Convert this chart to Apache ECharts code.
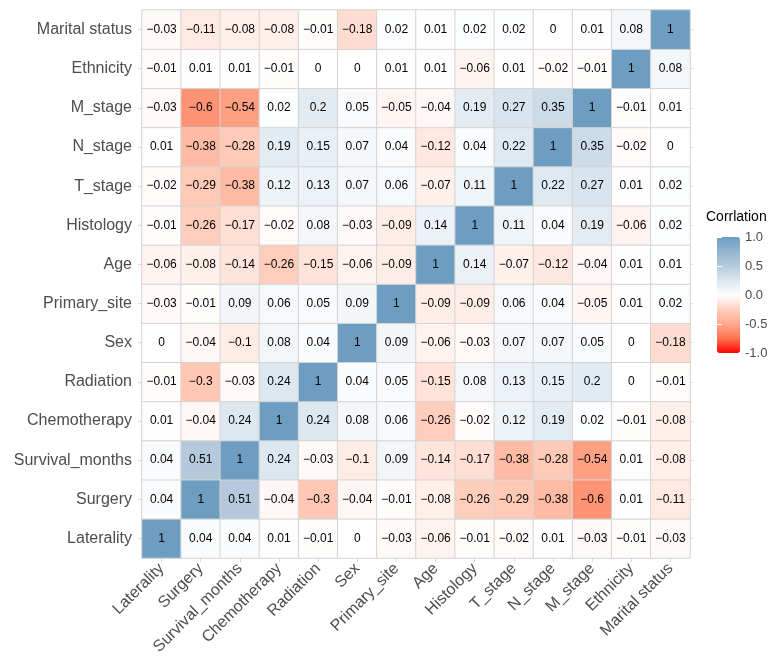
<!DOCTYPE html>
<html>
<head>
<meta charset="utf-8">
<script src="https://cdn.jsdelivr.net/npm/echarts@6/dist/echarts.min.js"></script>
<style>
html,body{margin:0;padding:0;background:#fff;}
#chart{width:773px;height:661px;}
</style>
</head>
<body>
<div id="chart"></div>
<script>
const variables = ['Laterality','Surgery','Survival_months','Chemotherapy','Radiation','Sex','Primary_site','Age','Histology','T_stage','N_stage','M_stage','Ethnicity','Marital status'];

const rowLaterality    = [1, 0.04, 0.04, 0.01, -0.01, 0, -0.03, -0.06, -0.01, -0.02, 0.01, -0.03, -0.01, -0.03];
const rowSurgery       = [0.04, 1, 0.51, -0.04, -0.3, -0.04, -0.01, -0.08, -0.26, -0.29, -0.38, -0.6, 0.01, -0.11];
const rowSurvival      = [0.04, 0.51, 1, 0.24, -0.03, -0.1, 0.09, -0.14, -0.17, -0.38, -0.28, -0.54, 0.01, -0.08];
const rowChemotherapy  = [0.01, -0.04, 0.24, 1, 0.24, 0.08, 0.06, -0.26, -0.02, 0.12, 0.19, 0.02, -0.01, -0.08];
const rowRadiation     = [-0.01, -0.3, -0.03, 0.24, 1, 0.04, 0.05, -0.15, 0.08, 0.13, 0.15, 0.2, 0, -0.01];
const rowSex           = [0, -0.04, -0.1, 0.08, 0.04, 1, 0.09, -0.06, -0.03, 0.07, 0.07, 0.05, 0, -0.18];
const rowPrimarySite   = [-0.03, -0.01, 0.09, 0.06, 0.05, 0.09, 1, -0.09, -0.09, 0.06, 0.04, -0.05, 0.01, 0.02];
const rowAge           = [-0.06, -0.08, -0.14, -0.26, -0.15, -0.06, -0.09, 1, 0.14, -0.07, -0.12, -0.04, 0.01, 0.01];
const rowHistology     = [-0.01, -0.26, -0.17, -0.02, 0.08, -0.03, -0.09, 0.14, 1, 0.11, 0.04, 0.19, -0.06, 0.02];
const rowTstage        = [-0.02, -0.29, -0.38, 0.12, 0.13, 0.07, 0.06, -0.07, 0.11, 1, 0.22, 0.27, 0.01, 0.02];
const rowNstage        = [0.01, -0.38, -0.28, 0.19, 0.15, 0.07, 0.04, -0.12, 0.04, 0.22, 1, 0.35, -0.02, 0];
const rowMstage        = [-0.03, -0.6, -0.54, 0.02, 0.2, 0.05, -0.05, -0.04, 0.19, 0.27, 0.35, 1, -0.01, 0.01];
const rowEthnicity     = [-0.01, 0.01, 0.01, -0.01, 0, 0, 0.01, 0.01, -0.06, 0.01, -0.02, -0.01, 1, 0.08];
const rowMarital       = [-0.03, -0.11, -0.08, -0.08, -0.01, -0.18, 0.02, 0.01, 0.02, 0.02, 0, 0.01, 0.08, 1];

const legendTitle = 'Corrlation';

const rows = [rowLaterality, rowSurgery, rowSurvival, rowChemotherapy, rowRadiation, rowSex, rowPrimarySite,
  rowAge, rowHistology, rowTstage, rowNstage, rowMstage, rowEthnicity, rowMarital];

const data = [];
rows.forEach((row, yi) => row.forEach((v, xi) => data.push([xi, yi, v])));

const textColor = '#4D4D4D';
const font = 'Liberation Sans, Arial, Helvetica, sans-serif';

const chart = echarts.init(document.getElementById('chart'));
chart.setOption({
  backgroundColor: '#fff',
  animation: false,
  textStyle: { fontFamily: font },
  title: {
    text: legendTitle, left: 706, top: 210, padding: 0,
    textStyle: { fontSize: 14, fontWeight: 'normal', color: '#000', fontFamily: font }
  },
  grid: [
    { left: 142, top: 10, width: 548, height: 548 },
    { left: 717, top: 237, width: 23, height: 116 }
  ],
  xAxis: [
    {
      type: 'category', data: variables, gridIndex: 0,
      axisLine: { show: false },
      axisTick: { show: true, alignWithLabel: true, length: 4, lineStyle: { color: '#D9D9D9' } },
      axisLabel: { rotate: 45, fontSize: 16, color: textColor, margin: 8, interval: 0, fontFamily: font },
      splitLine: { show: false }
    },
    { type: 'value', gridIndex: 1, show: false, min: 0, max: 1 }
  ],
  yAxis: [
    {
      type: 'category', data: variables, gridIndex: 0,
      axisLine: { show: false },
      axisTick: { show: true, alignWithLabel: true, length: 4, lineStyle: { color: '#D9D9D9' } },
      axisLabel: { fontSize: 16, color: textColor, margin: 10, interval: 0, fontFamily: font },
      splitLine: { show: false }
    },
    {
      type: 'category', data: variables, gridIndex: 0, position: 'right',
      axisLine: { show: false },
      axisTick: { show: true, alignWithLabel: true, length: 4, lineStyle: { color: '#E6E6E6' } },
      axisLabel: { show: false }
    },
    {
      type: 'value', gridIndex: 1, min: -1, max: 1, interval: 0.5, position: 'right', z: 10,
      axisLine: { show: false },
      axisTick: { show: true, inside: true, length: 5, lineStyle: { color: '#fff', width: 1 } },
      axisLabel: { fontSize: 13, color: textColor, margin: 5, fontFamily: font,
        formatter: v => v.toFixed(1) },
      splitLine: { show: false }
    },
    {
      type: 'value', gridIndex: 1, min: -1, max: 1, interval: 0.5, position: 'left', z: 10,
      axisLine: { show: false },
      axisTick: { show: true, inside: true, length: 5, lineStyle: { color: '#fff', width: 1 } },
      axisLabel: { show: false },
      splitLine: { show: false }
    }
  ],
  visualMap: {
    type: 'continuous', min: -1, max: 1, seriesIndex: 0,
    left: 717, top: 237, itemWidth: 23, itemHeight: 116, padding: 0,
    calculable: false, showLabel: false, text: null, hoverLink: false,
    inRange: {
      color: ['#FF0000', '#FF7350', '#FFA98C', '#FFCFBE', '#FFFFFF', '#DBE6EF', '#B5CBDD', '#93B5D0', '#6D9EC1']
    }
  },
  series: [{
    type: 'heatmap', xAxisIndex: 0, yAxisIndex: 0,
    data: data,
    itemStyle: { borderColor: '#D4D4D4', borderWidth: 1 },
    label: {
      show: true, fontSize: 12, color: '#000', fontFamily: font,
      formatter: p => String(p.value[2]).replace('-', '\u2212')
    },
    emphasis: { disabled: true }
  }]
});
</script>
</body>
</html>
